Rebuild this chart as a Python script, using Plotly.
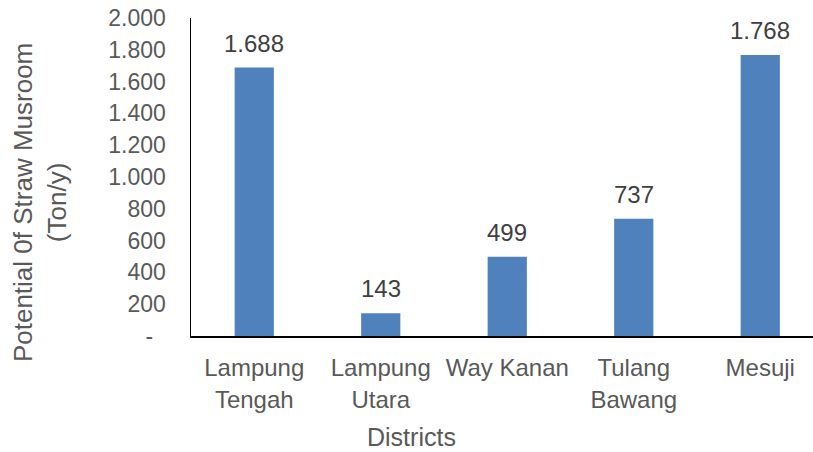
import plotly.graph_objects as go

categories = ["Lampung<br>Tengah", "Lampung<br>Utara", "Way Kanan", "Tulang<br>Bawang", "Mesuji"]
values = [1688, 143, 499, 737, 1768]
y_tickvals = [0, 200, 400, 600, 800, 1000, 1200, 1400, 1600, 1800, 2000]
y_ticktext = ["-\u00a0\u00a0", "200", "400", "600", "800", "1.000", "1.200", "1.400", "1.600", "1.800", "2.000"]
x_title = "Districts"
y_title = "Potential 0f Straw Musroom<br>(Ton/y)"


def fmt(v):
    return f"{v:,}".replace(",", ".")


FONT = "Liberation Sans, Arial, sans-serif"
GRAY = "#595959"

fig = go.Figure()
fig.add_trace(go.Bar(
    x=list(range(len(categories))),
    y=values,
    width=0.31,
    marker=dict(color="#4F81BD", line=dict(width=0)),
    hoverinfo="skip",
))

for i, v in enumerate(values):
    fig.add_annotation(
        x=i, y=v, text=fmt(v), showarrow=False,
        yanchor="bottom", yshift=9,
        font=dict(family=FONT, size=24, color="#404040"),
    )

# axis titles
fig.add_annotation(
    xref="paper", yref="paper", x=0.3553, y=-0.318,
    text=x_title, showarrow=False, xanchor="center", yanchor="middle",
    font=dict(family=FONT, size=25, color=GRAY),
)
fig.add_annotation(
    xref="paper", yref="paper", x=-0.2428, y=0.421,
    text=y_title, showarrow=False, xanchor="center", yanchor="middle",
    textangle=-90,
    font=dict(family=FONT, size=26, color=GRAY),
)

fig.update_layout(
    width=813, height=452,
    margin=dict(l=191, r=0, t=18, b=116),
    paper_bgcolor="white", plot_bgcolor="white",
    showlegend=False,
    font=dict(family=FONT, color=GRAY),
)
fig.update_xaxes(
    range=[-0.5, 4.417],
    tickvals=list(range(len(categories))),
    ticktext=categories,
    tickfont=dict(family=FONT, size=24, color=GRAY),
    showline=True, linecolor="black", linewidth=1.5,
    showgrid=False, zeroline=False, ticks="",
    ticklabelstandoff=10,
    automargin=False,
)
fig.update_yaxes(
    range=[0, 2000],
    tickvals=y_tickvals,
    ticktext=y_ticktext,
    tickfont=dict(family=FONT, size=23, color=GRAY),
    showline=True, linecolor="black", linewidth=1.5,
    showgrid=False, zeroline=False, ticks="",
    ticklabelstandoff=19,
    ticklabeloverflow="allow",
    automargin=False,
)

fig.write_html(
    "out.html",
    config={"displayModeBar": False, "staticPlot": True},
    post_script="document.body.style.margin='0';document.body.style.overflow='hidden';",
)
